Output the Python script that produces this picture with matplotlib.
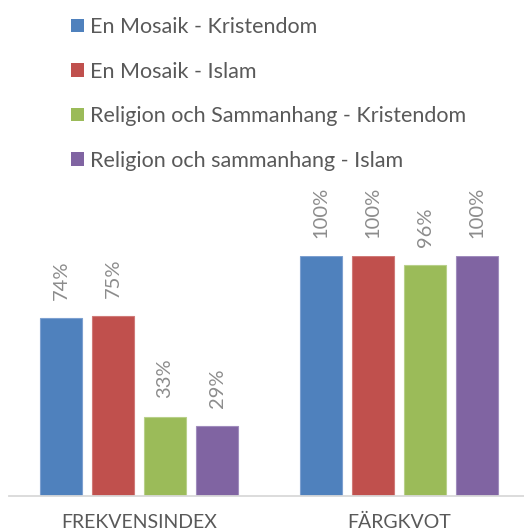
import matplotlib
matplotlib.use('Agg')
from matplotlib import pyplot as plt
from matplotlib.patches import Patch
import numpy as np

plt.rcParams['font.family'] = ['Lato', 'DejaVu Sans']

categories = ['FREKVENSINDEX', 'FÄRGKVOT']
series_names = ['En Mosaik - Kristendom', 'En Mosaik - Islam',
                'Religion och Sammanhang - Kristendom', 'Religion och sammanhang - Islam']
series_values = [
    [0.74, 1.00],
    [0.75, 1.00],
    [0.33, 0.96],
    [0.29, 1.00],
]
colors = ['#4F81BD', '#C0504D', '#9BBB59', '#8064A2']
edge_colors = ['#7da0d0', '#d07a78', '#b8d08a', '#a08cbd']

W, H = 524, 531
fig = plt.figure(figsize=(W / 100, H / 100), dpi=100)
ax = fig.add_axes([9 / W, (H - 495.7) / H, 520 / W, 240 / H])

x = np.arange(len(categories))
bar_w = 42 / 260
step = 52 / 260
for i, (name, vals) in enumerate(zip(series_names, series_values)):
    pos = x + (i - 1.5) * step
    bars = ax.bar(pos, vals, width=bar_w, color=colors[i], edgecolor=edge_colors[i],
                  linewidth=0.8, label=name, zorder=2)
    for b, v in zip(bars, vals):
        ax.annotate('{:.0f}%'.format(v * 100), (b.get_x() + b.get_width() / 2, v),
                    xytext=(0, 13), textcoords='offset points', rotation=90,
                    ha='center', va='bottom', fontsize=14.5, color='#8c8c8c')

ax.set_xlim(-0.5, 1.5)
ax.set_ylim(0, 1)
for s in ['top', 'right', 'left']:
    ax.spines[s].set_visible(False)
ax.spines['bottom'].set_color('#d9d9d9')
ax.spines['bottom'].set_linewidth(1.3)
ax.set_yticks([])
ax.set_xticks(x)
ax.set_xticklabels(categories, fontsize=14, color='#595959')
ax.tick_params(axis='x', length=0, pad=13)

handles = [Patch(facecolor=c, edgecolor='none') for c in colors]
fig.legend(handles, series_names, loc='upper left', bbox_to_anchor=(71 / W, 1 - 17 / H),
           frameon=False, fontsize=15.5, handlelength=0.6, handleheight=0.6,
           handletextpad=0.3, labelspacing=1.14, borderpad=0, borderaxespad=0,
           labelcolor='#595959')

plt.savefig('out.png', dpi=100)
